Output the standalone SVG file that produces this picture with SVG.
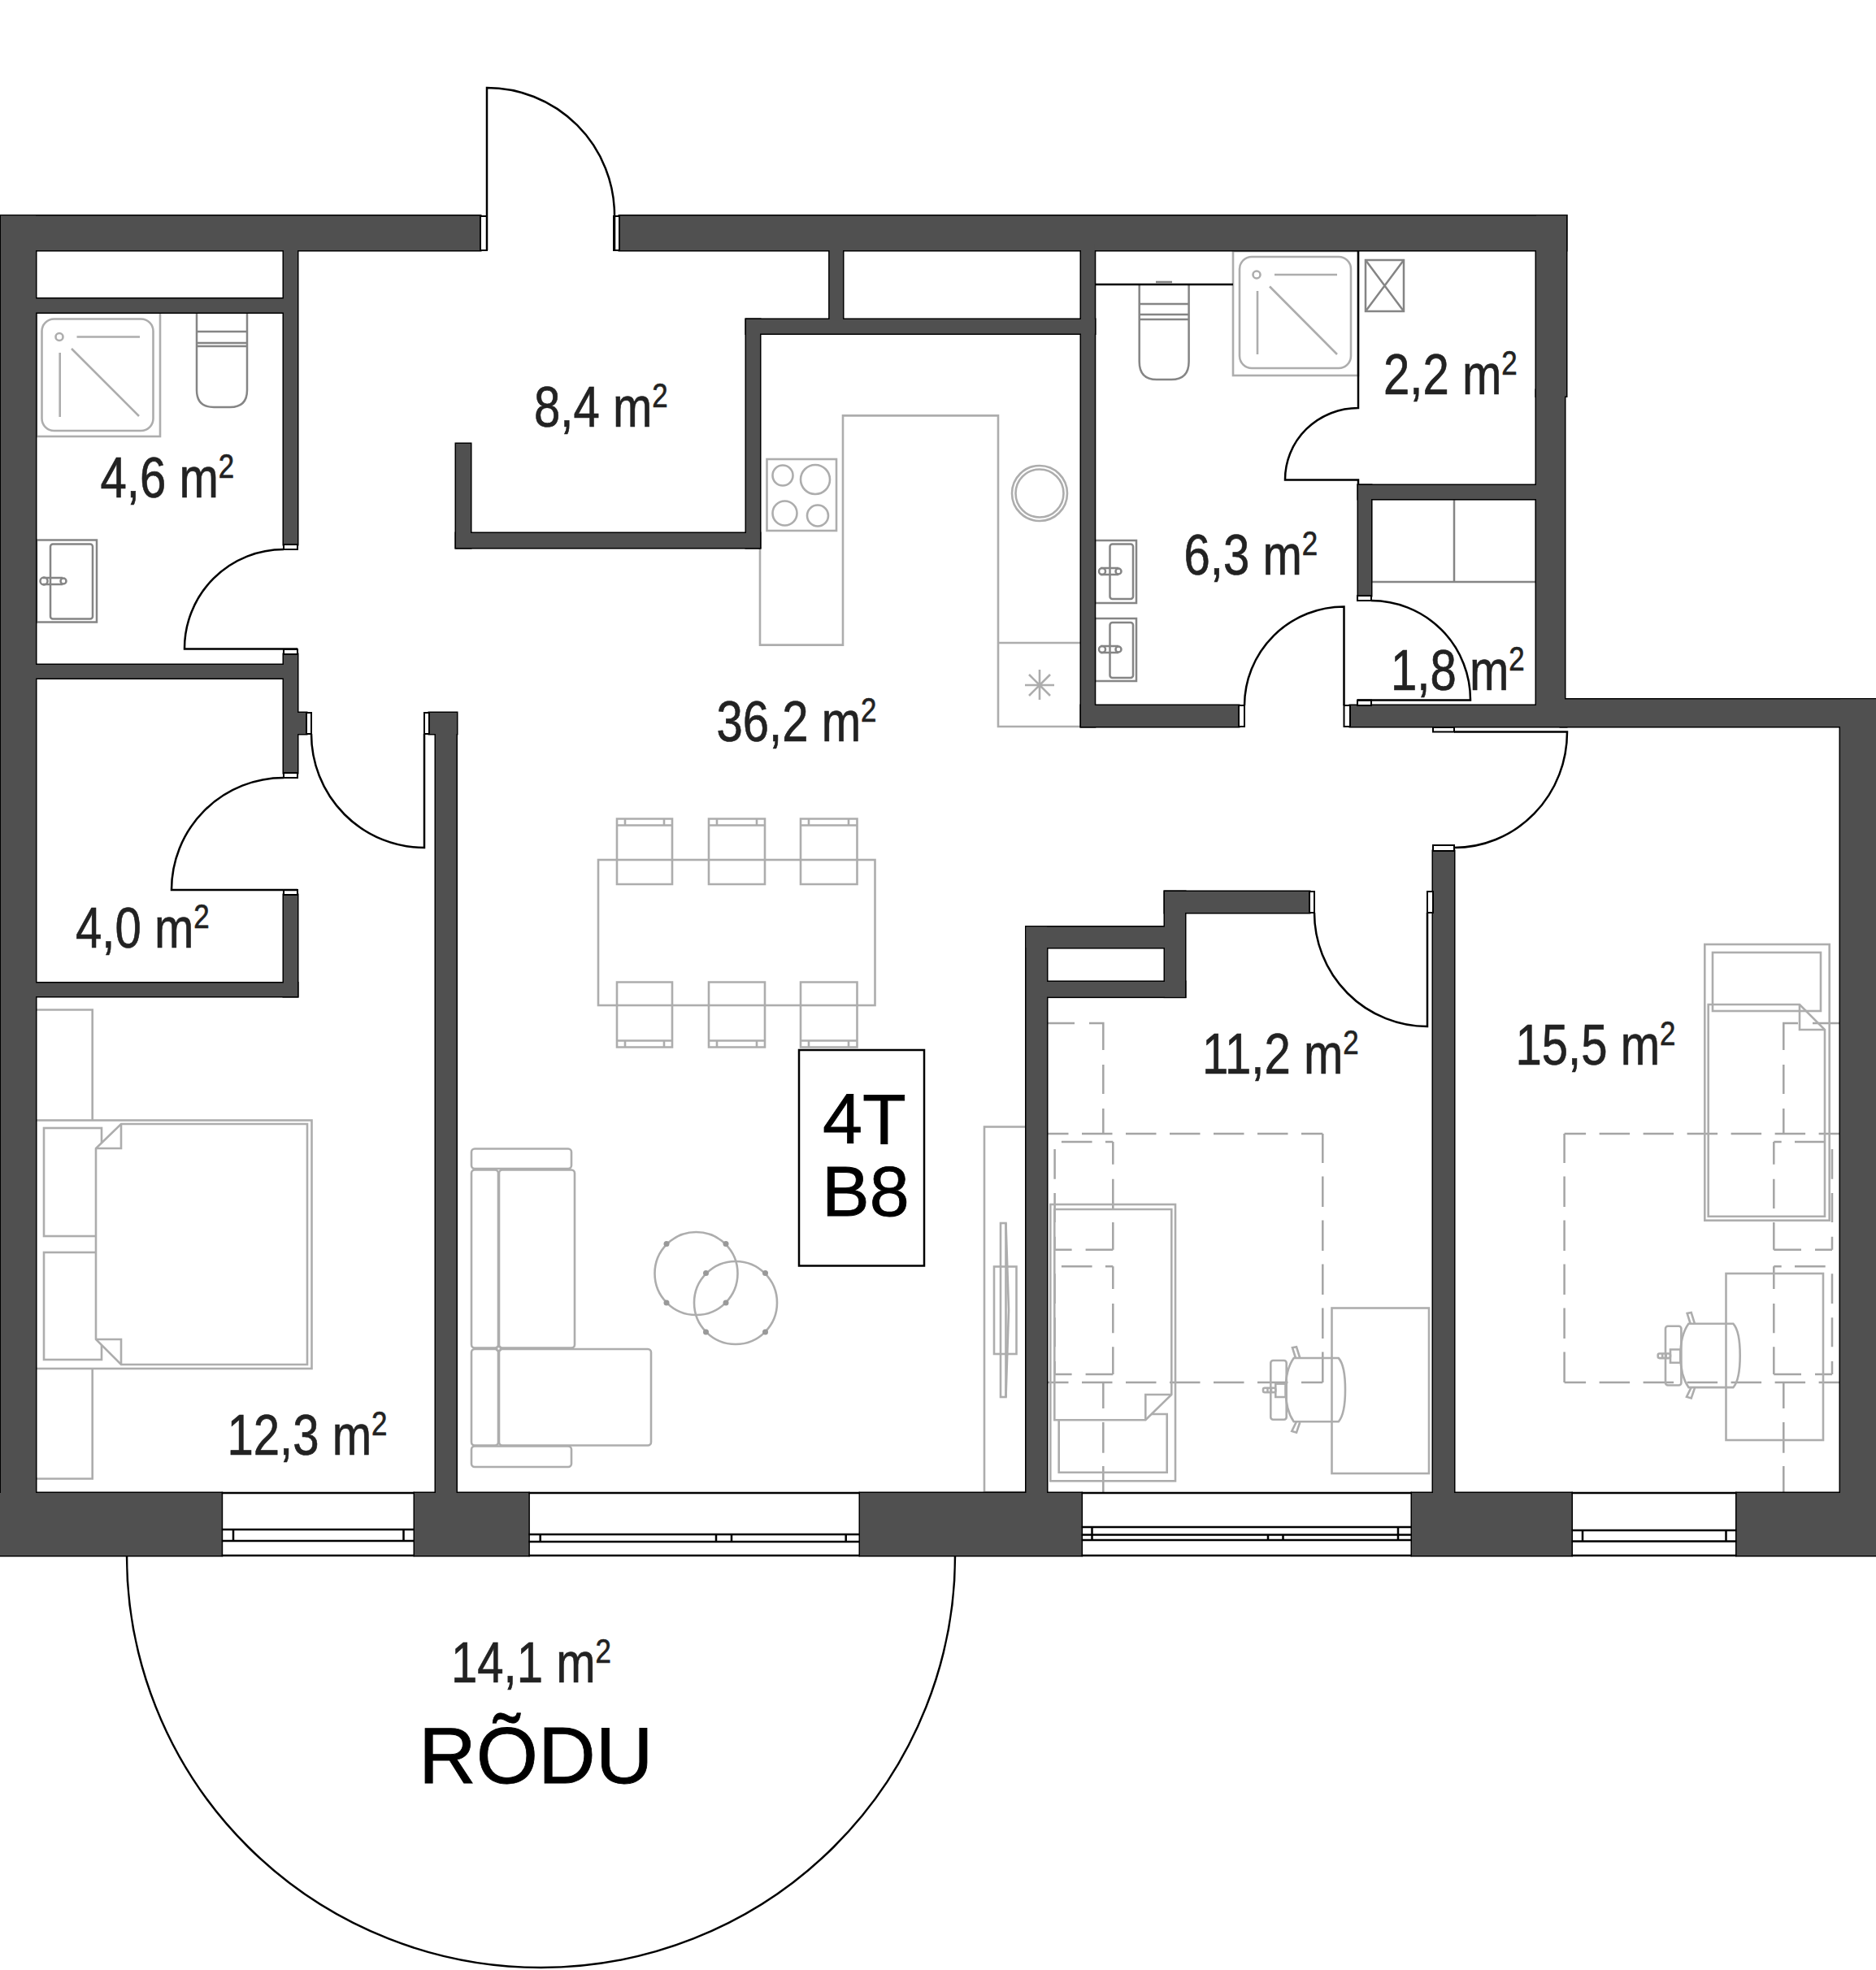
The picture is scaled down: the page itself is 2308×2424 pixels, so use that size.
<svg xmlns="http://www.w3.org/2000/svg" xmlns:xlink="http://www.w3.org/1999/xlink" width="2308" height="2424" viewBox="0 0 2308 2424">
<style>
.f{fill:none;stroke:#adadad;stroke-width:2.6}
.fw{fill:#fff;stroke:#adadad;stroke-width:2.6}
.s{fill:none;stroke:#858585;stroke-width:2.5}
.d{fill:none;stroke:#a5a5a5;stroke-width:2.5;stroke-dasharray:37.5 16.5}
.h{stroke-dashoffset:11}
.l{fill:none;stroke:#a5a5a5;stroke-width:2.5}
.k{fill:none;stroke:#000;stroke-width:2.5}
.j{fill:#fff;stroke:#000;stroke-width:2}
.a{font-family:"Liberation Sans",Arial,sans-serif;font-size:70px;fill:#222;stroke:#222;stroke-width:.7}
.a tspan{font-size:42px}
.b{font-family:"Liberation Sans",Arial,sans-serif;fill:#000;stroke:#000;stroke-width:.8}
</style>
<defs>
<g id="walls">
<rect x="1" y="265.5" width="590" height="42.5"/>
<rect x="762" y="265.5" width="1165" height="42.5"/>
<rect x="1" y="265.5" width="43" height="1648"/>
<rect x="349" y="300" width="17" height="370"/>
<rect x="40" y="367.5" width="315" height="17"/>
<rect x="40" y="818" width="315" height="16.5"/>
<rect x="349" y="805" width="17" height="146"/>
<rect x="360" y="877" width="17" height="26"/>
<rect x="349" y="1101" width="17" height="125"/>
<rect x="40" y="1209.5" width="326" height="16.5"/>
<rect x="528" y="877" width="34" height="26"/>
<rect x="536" y="890" width="25.5" height="950"/>
<rect x="0" y="1837" width="272.7" height="77"/>
<rect x="510" y="1837" width="140.4" height="77"/>
<rect x="1058" y="1837" width="272.6" height="77"/>
<rect x="1737" y="1837" width="196.5" height="77"/>
<rect x="2136.5" y="1837" width="171.5" height="77"/>
<rect x="561" y="546" width="18" height="128"/>
<rect x="561" y="656" width="374" height="18"/>
<rect x="918" y="393" width="17" height="281"/>
<rect x="918" y="393" width="429" height="17.5"/>
<rect x="1020.6" y="300" width="16.4" height="100"/>
<rect x="1330" y="300" width="16.8" height="594"/>
<rect x="1330" y="868" width="194" height="26"/>
<rect x="1661" y="868" width="266" height="26"/>
<rect x="1890" y="265.5" width="37" height="222"/>
<rect x="1890" y="480" width="35" height="400"/>
<rect x="1920" y="860.5" width="388" height="33.5"/>
<rect x="2264" y="860.5" width="44" height="1053"/>
<rect x="1671" y="597" width="219" height="17"/>
<rect x="1671" y="597" width="16" height="136"/>
<rect x="1763" y="1047" width="26" height="800"/>
<rect x="1262.5" y="1140.5" width="25.5" height="700"/>
<rect x="1262.5" y="1140.5" width="176" height="25.5"/>
<rect x="1280" y="1208" width="178" height="18.6"/>
<rect x="1433" y="1097" width="25" height="129.6"/>
<rect x="1433" y="1097" width="178" height="26"/>
</g>
<g id="chair" class="f">
<path d="M1591.700 1671H1646.700Q1655 1680 1655 1710Q1655 1740 1646.700 1749.300H1591.700Q1581.700 1735 1581.700 1710Q1581.700 1685 1591.700 1671Z"/>
<rect x="1563.300" y="1674" width="19.400" height="72.700" rx="3"/>
<path d="M1569.300 1702.700H1581.700V1719H1569.300Z"/>
<rect x="1554" y="1707.700" width="15.300" height="5.600" rx="2"/>
<path d="M1559.500 1707.700V1713.300M1564 1707.700V1713.300"/>
<path d="M1594 1671L1590 1658.300L1595 1657.300L1599.300 1671M1595 1749.300L1589.300 1761L1595 1762.700L1599.300 1750"/>
</g>
<g id="small-dash" class="l">
<path d="M2182.300 1405H2191.700M2208 1405H2245.700M2182.300 1405V1432.700M2182.300 1450.700V1487M2182.300 1504V1537.700M2254 1414V1450.700M2254 1468V1504M2254 1521.700V1537.700M2182.300 1537.700H2216M2233 1537.700H2254"/>
</g>
</defs>
<rect width="2308" height="2424" fill="#fff"/>

<g id="furniture">
<!-- bathroom left -->
<rect class="f" x="45" y="384.5" width="152" height="152.5"/>
<rect class="f" x="51.500" y="392.500" width="137" height="137.500" rx="15"/>
<circle class="f" cx="73" cy="414.500" r="4.500"/>
<path class="f" d="M94.500 414.500H172M73.700 434V513M88 429L171 512"/>
<path class="s" d="M242 385V480Q242 501 263 501H283Q304 501 304 480V385M242 408H304M242 422H304M242 426H304"/>
<rect class="s" x="45" y="664.500" width="74" height="101"/>
<rect class="s" x="62" y="669.500" width="52" height="92" rx="3"/>
<path class="s" d="M53 711H77M53 719H77"/><circle class="s" cx="54" cy="715" r="4.500"/><circle class="s" cx="78" cy="715" r="3.500"/>
<!-- bedroom 12.3 -->
<path class="f" d="M44 1242.500H113.700V1378.500M113.700 1684V1819.500H44"/>
<rect class="f" x="44" y="1378.500" width="339.500" height="305.500"/>
<rect class="f" x="54" y="1388" width="71" height="133"/>
<rect class="f" x="54" y="1541" width="71" height="132"/>
<path class="fw" d="M149 1383H378V1679H149L118 1648V1413Z"/>
<path class="f" d="M118 1413H149V1383M118 1648H149V1679"/>
<!-- kitchen -->
<path class="f" d="M935 673V793.600H1037V511.400H1228V894H1330M1228 791H1330"/>
<rect class="f" x="943.500" y="565" width="85.500" height="88"/>
<circle class="f" cx="963" cy="585" r="12.500"/><circle class="f" cx="1003" cy="590" r="18"/><circle class="f" cx="965.500" cy="631.500" r="15"/><circle class="f" cx="1006" cy="634.500" r="13"/>
<circle class="f" cx="1279" cy="607" r="34"/><circle class="f" cx="1279" cy="607" r="29.500"/>
<path class="f" d="M1279 824V861M1261 843H1297M1266 830L1292 856M1292 830L1266 856"/>
<!-- dining -->
<rect class="f" x="736" y="1058" width="340.500" height="179"/>
<g id="chairs-top" class="f">
<path d="M759 1007.500H827V1088H759ZM759 1015.500H827M769 1007.500V1015.500M817 1007.500V1015.500"/>
<path d="M872 1007.500H941V1088H872ZM872 1015.500H941M882 1007.500V1015.500M931 1007.500V1015.500"/>
<path d="M985 1007.500H1054.500V1088H985ZM985 1015.500H1054.500M995 1007.500V1015.500M1044 1007.500V1015.500"/>
</g>
<g id="chairs-bottom" class="f">
<path d="M759 1208.500H827V1288.500H759ZM759 1280.500H827M769 1280.500V1288.500M817 1280.500V1288.500"/>
<path d="M872 1208.500H941V1288.500H872ZM872 1280.500H941M882 1280.500V1288.500M931 1280.500V1288.500"/>
<path d="M985 1208.500H1054.500V1288.500H985ZM985 1280.500H1054.500M995 1280.500V1288.500M1044 1280.500V1288.500"/>
</g>
<!-- sofa -->
<rect class="f" x="580" y="1413.500" width="123" height="24.500" rx="4"/>
<rect class="f" x="580" y="1439.500" width="33" height="219" rx="4"/>
<rect class="f" x="614" y="1439.500" width="93" height="219" rx="4"/>
<rect class="f" x="580" y="1660" width="33" height="118.500" rx="4"/>
<rect class="f" x="614" y="1660" width="187" height="118.500" rx="4"/>
<rect class="f" x="580" y="1779.500" width="123" height="25.500" rx="4"/>
<circle class="fw" cx="613.500" cy="1659.500" r="2.500"/>
<!-- coffee tables -->
<circle class="f" cx="856.500" cy="1567" r="51"/><circle class="f" cx="905" cy="1603" r="51"/>
<g fill="#999"><circle cx="820" cy="1530.500" r="3.500"/><circle cx="893" cy="1530.500" r="3.500"/><circle cx="820" cy="1603" r="3.500"/><circle cx="893" cy="1603" r="3.500"/><circle cx="868.500" cy="1566.500" r="3.500"/><circle cx="941.500" cy="1566.500" r="3.500"/><circle cx="868.500" cy="1639" r="3.500"/><circle cx="941.500" cy="1639" r="3.500"/></g>
<!-- tv unit -->
<rect class="f" x="1211" y="1386.500" width="51.500" height="449.500"/>
<rect class="f" x="1223" y="1558.500" width="27.500" height="107.500"/>
<rect class="f" x="1231" y="1505" width="6.500" height="214"/>
<path class="f" d="M1237.500 1505L1241 1612L1237.500 1719"/>
<!-- bath right -->
<rect class="f" x="1517" y="309" width="154" height="153"/>
<rect class="f" x="1525" y="316" width="137" height="137" rx="15"/>
<circle class="f" cx="1546" cy="338" r="4.500"/>
<path class="f" d="M1568 338H1645M1547 358V436M1562 352.500L1645 436"/>
<path class="s" d="M1401.700 350V445Q1401.700 467 1423 467H1441Q1462.600 467 1462.600 445V350M1401.700 374H1462.600M1401.700 387H1462.600M1401.700 393H1462.600M1422 347H1442"/>
<rect class="s" x="1680" y="320" width="47" height="63"/>
<path class="s" d="M1680 320L1727 383M1727 320L1680 383"/>
<rect class="s" x="1347" y="665" width="51" height="77"/>
<rect class="s" x="1365.500" y="669.500" width="28.500" height="67.500" rx="3"/>
<path class="s" d="M1354 699H1376M1354 707H1376"/><circle class="s" cx="1356" cy="703" r="4"/><circle class="s" cx="1376" cy="703" r="3.500"/>
<rect class="s" x="1347" y="761" width="51" height="77"/>
<rect class="s" x="1365.500" y="766" width="28.500" height="68" rx="3"/>
<path class="s" d="M1354 795H1376M1354 803H1376"/><circle class="s" cx="1356" cy="799" r="4"/><circle class="s" cx="1376" cy="799" r="3.500"/>
<path class="s" d="M1687 614H1890V716H1687ZM1789 614V716"/>
<!-- room 11.2 -->
<path class="d" d="M1627.300 1701V1395"/>
<path class="d h" d="M1288 1395H1627.300M1288 1701H1627.300"/>
<path class="l" d="M1288 1259H1322M1340 1259H1357.300V1292M1357.300 1310V1346M1357.300 1364V1395M1357.300 1701V1733M1357.300 1750V1787.700M1357.300 1804V1837"/>
<use href="#small-dash" transform="matrix(-1 0 0 1 3551.600 0)"/>
<use href="#small-dash" transform="matrix(-1 0 0 1 3551.600 153.300)"/>
<rect class="f" x="1292.300" y="1482" width="153.700" height="340.300"/>
<path class="f" d="M1297.300 1488H1441.300V1716L1409.300 1747.300H1297.300Z"/>
<path class="f" d="M1441.300 1716H1409.300V1747.300"/>
<path class="f" d="M1302.700 1747.300V1811.700H1435.700V1740H1416.700"/>
<rect class="f" x="1638.500" y="1609.500" width="119.500" height="203.500"/>
<use href="#chair"/>
<!-- room 15.5 -->
<path class="d" d="M1924.600 1701V1395"/>
<path class="d h" d="M1924.600 1395H2264M1924.600 1701H2264"/>
<path class="l" d="M2264 1259H2230M2212 1259H2194.300V1292M2194.300 1310V1346M2194.300 1364V1395M2194.300 1701V1733M2194.300 1750V1787.700M2194.300 1804V1837"/>
<use href="#small-dash"/>
<use href="#small-dash" transform="translate(0 153.300)"/>
<rect class="f" x="2097.300" y="1162" width="153.400" height="339.700"/>
<rect class="f" x="2107" y="1172" width="133" height="72"/>
<path class="f" d="M2101.700 1236H2214L2245 1267V1496.700H2101.700Z"/>
<path class="f" d="M2214 1236V1267H2245"/>
<rect class="f" x="2123.500" y="1567" width="119.500" height="205"/>
<use href="#chair" transform="translate(485.700 -42.200)"/>
</g>

<g id="walls-layer">
<use href="#walls" fill="#000" stroke="#000" stroke-width="3"/>
<use href="#walls" fill="#505050"/>
</g>

<g id="jambs">
<rect class="j" x="591" y="266" width="8" height="42"/>
<rect class="j" x="755" y="266" width="7" height="42"/>
<rect class="j" x="349" y="670" width="17" height="6"/>
<rect class="j" x="349" y="799" width="17" height="6"/>
<rect class="j" x="349" y="951" width="17" height="6"/>
<rect class="j" x="349" y="1095" width="17" height="6"/>
<rect class="j" x="377" y="877" width="6" height="26"/>
<rect class="j" x="522" y="877" width="6" height="26"/>
<rect class="j" x="1524" y="868" width="7" height="26"/>
<rect class="j" x="1653.500" y="868" width="7.500" height="26"/>
<rect class="j" x="1670" y="733" width="17" height="6"/>
<rect class="j" x="1670" y="861.500" width="17" height="6.500"/>
<rect class="j" x="1763" y="895" width="26" height="5.500"/>
<rect class="j" x="1763" y="1040" width="26" height="7"/>
<rect class="j" x="1611" y="1097" width="6" height="26"/>
<rect class="j" x="1756" y="1097" width="7" height="26"/>
</g>

<g id="doors" class="k">
<path d="M599 308V108A157 157 0 0 1 756 265V308"/>
<path d="M349 676A122 122 0 0 0 227 798.500H366"/>
<path d="M383 903A139 140 0 0 0 522 1043V903"/>
<path d="M349 957A138 138 0 0 0 211 1095H366"/>
<path d="M1671 308V502A90 88 0 0 0 1581 590.500H1671V597"/>
<path d="M1347 350H1517"/>
<path d="M1531 868A122.500 122 0 0 1 1653.500 746.500V868"/>
<path d="M1687 739A122 122 0 0 1 1809 861.500H1670"/>
<path d="M1789 900.500H1928A139 142 0 0 1 1789 1043"/>
<path d="M1617 1123A139 140 0 0 0 1756 1263V1123"/>
<path d="M156 1914A509.500 507 0 0 0 1175 1914"/>
</g>

<g id="windows" class="k">
<path d="M272.700 1837H510M272.700 1914H510M272.700 1882H510M272.700 1896H510M287 1882V1896M496.500 1882V1896"/>
<path d="M650.400 1837H1058M650.400 1914H1058M650.400 1888H1058M650.400 1897H1058M664.700 1888V1897M881 1888V1897M900 1888V1897M1040.700 1888V1897"/>
<path d="M1330.600 1837H1737M1330.600 1914H1737M1330.600 1879H1737M1330.600 1888.500H1737M1330.600 1895H1737M1343.500 1879V1895M1560 1888.500V1895M1578.500 1888.500V1895M1720 1879V1895"/>
<path d="M1933.500 1837H2136.500M1933.500 1914H2136.500M1933.500 1883H2136.500M1933.500 1896.500H2136.500M1947 1883V1896.500M2123.500 1883V1896.500"/>
</g>

<g id="labels">
<text class="a" transform="translate(123.500 612) scale(.83 1)">4,6 m<tspan dy="-24">2</tspan></text>
<text class="a" transform="translate(657 524.500) scale(.83 1)">8,4 m<tspan dy="-24">2</tspan></text>
<text class="a" transform="translate(1702 484.500) scale(.83 1)">2,2 m<tspan dy="-24">2</tspan></text>
<text class="a" transform="translate(1456.500 706.500) scale(.83 1)">6,3 m<tspan dy="-24">2</tspan></text>
<text class="a" transform="translate(1711 849) scale(.83 1)">1,8 m<tspan dy="-24">2</tspan></text>
<text class="a" transform="translate(881.500 912) scale(.83 1)">36,2 m<tspan dy="-24">2</tspan></text>
<text class="a" transform="translate(93 1166) scale(.83 1)">4,0 m<tspan dy="-24">2</tspan></text>
<text class="a" transform="translate(279.500 1790) scale(.83 1)">12,3 m<tspan dy="-24">2</tspan></text>
<text class="a" transform="translate(1479 1321) scale(.83 1)">11,2 m<tspan dy="-24">2</tspan></text>
<text class="a" transform="translate(1864.500 1310) scale(.83 1)">15,5 m<tspan dy="-24">2</tspan></text>
<text class="a" transform="translate(555 2070) scale(.83 1)">14,1 m<tspan dy="-24">2</tspan></text>
<text class="b" x="515" y="2194" font-size="98">RÕDU</text>
</g>

<g id="unit-tag">
<rect x="983" y="1292" width="154" height="265.500" fill="#fff" stroke="#000" stroke-width="2.500"/>
<text class="b" x="1012" y="1407" font-size="88">4T</text>
<text class="b" x="1011" y="1495.500" font-size="88">B8</text>
</g>
</svg>
